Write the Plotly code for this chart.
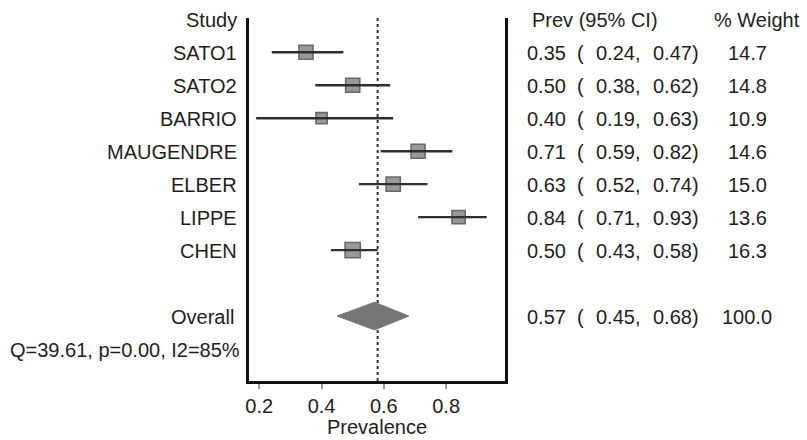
import plotly.graph_objects as go

studies = ["SATO1", "SATO2", "BARRIO", "MAUGENDRE", "ELBER", "LIPPE", "CHEN"]
prev = [0.35, 0.50, 0.40, 0.71, 0.63, 0.84, 0.50]
ci_low = [0.24, 0.38, 0.19, 0.59, 0.52, 0.71, 0.43]
ci_high = [0.47, 0.62, 0.63, 0.82, 0.74, 0.93, 0.58]
weights = [14.7, 14.8, 10.9, 14.6, 15.0, 13.6, 16.3]

overall_label = "Overall"
overall_prev = 0.57
overall_low = 0.45
overall_high = 0.68
overall_weight = 100.0
pooled_ref_line = 0.58
het_text = "Q=39.61, p=0.00, I2=85%"

x_ticks = [0.2, 0.4, 0.6, 0.8]
x_title = "Prevalence"
col_study = "Study"
col_prev = "Prev (95% CI)"
col_weight = "% Weight"

FONT = "Liberation Sans, Arial, sans-serif"
TXT = "#1e1e1e"
FS = 20

# row positions (0 = header)
study_rows = list(range(1, len(studies) + 1))
overall_row = len(studies) + 2
het_row = overall_row + 1

# plot area geometry in px
L, R, T, B = 249, 505, 18, 381


def px_to_paper(px):
    return (px - L) / (R - L)


fig = go.Figure()

# squares
fig.add_trace(go.Scatter(
    x=prev, y=study_rows, mode="markers",
    marker=dict(symbol="square", size=[3 + w * 0.75 for w in weights],
                color="#6e6e6e", line=dict(color="#2a2a2a", width=1.6)),
    hoverinfo="skip", showlegend=False,
))

# CI lines
for r, lo, hi in zip(study_rows, ci_low, ci_high):
    fig.add_trace(go.Scatter(
        x=[lo, hi], y=[r, r], mode="lines",
        line=dict(color="#2e2e2e", width=2.4),
        hoverinfo="skip", showlegend=False,
    ))

# overall diamond
dh = 0.42
fig.add_trace(go.Scatter(
    x=[overall_low, overall_prev, overall_high, overall_prev, overall_low],
    y=[overall_row, overall_row - dh, overall_row, overall_row + dh, overall_row],
    mode="lines", fill="toself", fillcolor="#767676",
    line=dict(color="#767676", width=1),
    hoverinfo="skip", showlegend=False,
))

# dotted reference line
fig.add_shape(type="line", x0=pooled_ref_line, x1=pooled_ref_line, y0=0, y1=1,
              xref="x", yref="paper", line=dict(color="#333333", width=2, dash="dot"),
              layer="below")

ann = []


def add_text(text, xpx, row, anchor):
    ann.append(dict(text=text, x=px_to_paper(xpx), xref="paper", y=row, yref="y",
                    xanchor=anchor, yanchor="middle", showarrow=False, yshift=-1,
                    font=dict(family=FONT, size=FS, color=TXT)))


# left labels
add_text(col_study, 239, 0, "right")
for r, s in zip(study_rows, studies):
    add_text(s, 239, r, "right")
add_text(overall_label, 236, overall_row, "right")
add_text(het_text, 242, het_row, "right")

# right columns
add_text(col_prev, 530, 0, "left")
add_text(col_weight, 712, 0, "left")


def add_row_values(r, p, lo, hi, w):
    add_text(f"{p:.2f}", 525, r, "left")
    add_text("(", 575, r, "left")
    add_text(f"{lo:.2f},", 594, r, "left")
    add_text(f"{hi:.2f})", 651, r, "left")
    add_text(f"{w:.1f}", 747, r, "center")


for r, p, lo, hi, w in zip(study_rows, prev, ci_low, ci_high, weights):
    add_row_values(r, p, lo, hi, w)
add_row_values(overall_row, overall_prev, overall_low, overall_high, overall_weight)

# x axis title as annotation (placed below tick labels)
ann.append(dict(text=x_title, x=0.5, xref="paper", y=(B - 427) / (B - T), yref="paper",
                xanchor="center", yanchor="middle", showarrow=False,
                font=dict(family=FONT, size=FS, color=TXT)))

fig.update_layout(
    width=807, height=440,
    margin=dict(l=L, r=807 - R, t=T, b=440 - B, pad=0),
    paper_bgcolor="white", plot_bgcolor="white",
    annotations=ann,
    xaxis=dict(range=[0.167, 0.989], tickvals=x_ticks,
               ticktext=[f"{v:.1f}" for v in x_ticks],
               showgrid=False, zeroline=False, automargin=False,
               showline=True, linecolor="#111111", linewidth=2.5,
               ticks="outside", ticklen=5, tickwidth=1.5, tickcolor="#999999",
               ticklabelstandoff=0,
               tickfont=dict(family=FONT, size=FS, color=TXT),
               fixedrange=True),
    yaxis=dict(range=[10.97, -0.04], showgrid=False, zeroline=False, automargin=False,
               showticklabels=False, showline=True, mirror=True,
               linecolor="#111111", linewidth=2.5, fixedrange=True),
)

fig.write_html("out.html", config={"displayModeBar": False},
               post_script="document.body.style.margin='0';document.body.style.overflow='hidden';")
